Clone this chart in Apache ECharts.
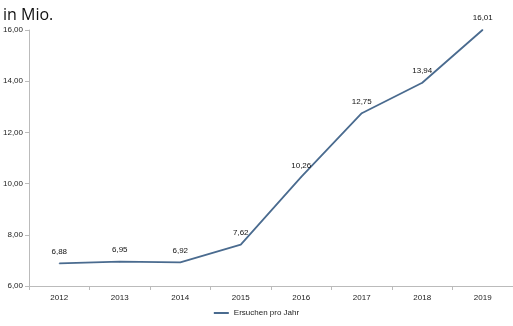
<!DOCTYPE html>
<html>
<head>
<meta charset="utf-8">
<script src="https://cdn.jsdelivr.net/npm/echarts@6/dist/echarts.min.js"></script>
<style>
html,body{margin:0;padding:0;background:#fff;}
#c{width:513px;height:326px;}
</style>
</head>
<body>
<div id="c"></div>
<script>
// Requests per year (millions)
const years = ['2012','2013','2014','2015','2016','2017','2018','2019'];
const requests = [6.88, 6.95, 6.92, 7.62, 10.26, 12.75, 13.94, 16.01];
const seriesName = 'Ersuchen pro Jahr';
const unitLabel = 'in Mio.';

const fmt = v => v.toFixed(2).replace('.', ',');

const chart = echarts.init(document.getElementById('c'), null, {renderer: 'canvas'});
chart.setOption({
  animation: false,
  textStyle: {fontFamily: 'Liberation Sans, Arial, sans-serif'},
  title: {
    text: unitLabel, left: -2, top: 2,
    textStyle: {fontSize: 16, fontWeight: 'normal', color: '#111', fontFamily: 'Open Sans, sans-serif'}
  },
  grid: {left: 28, right: -2, top: 30, bottom: 40},
  legend: {
    bottom: 4, left: 'center', itemWidth: 15, itemHeight: 2, itemGap: 4,
    icon: 'rect',
    itemStyle: {color: '#4a6b8f'},
    textStyle: {fontSize: 8, color: '#222'},
    data: [seriesName]
  },
  xAxis: {
    type: 'category', data: years, boundaryGap: true,
    axisLine: {lineStyle: {color: '#bbb'}},
    axisTick: {show: true, length: 4, lineStyle: {color: '#bbb'}},
    axisLabel: {fontSize: 8, color: '#222', margin: 8}
  },
  yAxis: {
    type: 'value', min: 6, max: 16, interval: 2,
    axisLine: {show: true, lineStyle: {color: '#bbb'}},
    axisTick: {show: true, length: 4, inside: false, lineStyle: {color: '#bbb'}},
    splitLine: {show: false},
    axisLabel: {fontSize: 8, color: '#222', margin: 6, formatter: fmt}
  },
  series: [{
    name: seriesName, type: 'line', data: requests, clip: false,
    showSymbol: true, symbol: 'circle', symbolSize: 1,
    lineStyle: {color: '#4a6b8f', width: 1.8},
    itemStyle: {color: '#4a6b8f'},
    label: {show: true, position: 'top', distance: 7, fontSize: 8, color: '#111', formatter: p => fmt(p.value)}
  }]
});
</script>
</body>
</html>
